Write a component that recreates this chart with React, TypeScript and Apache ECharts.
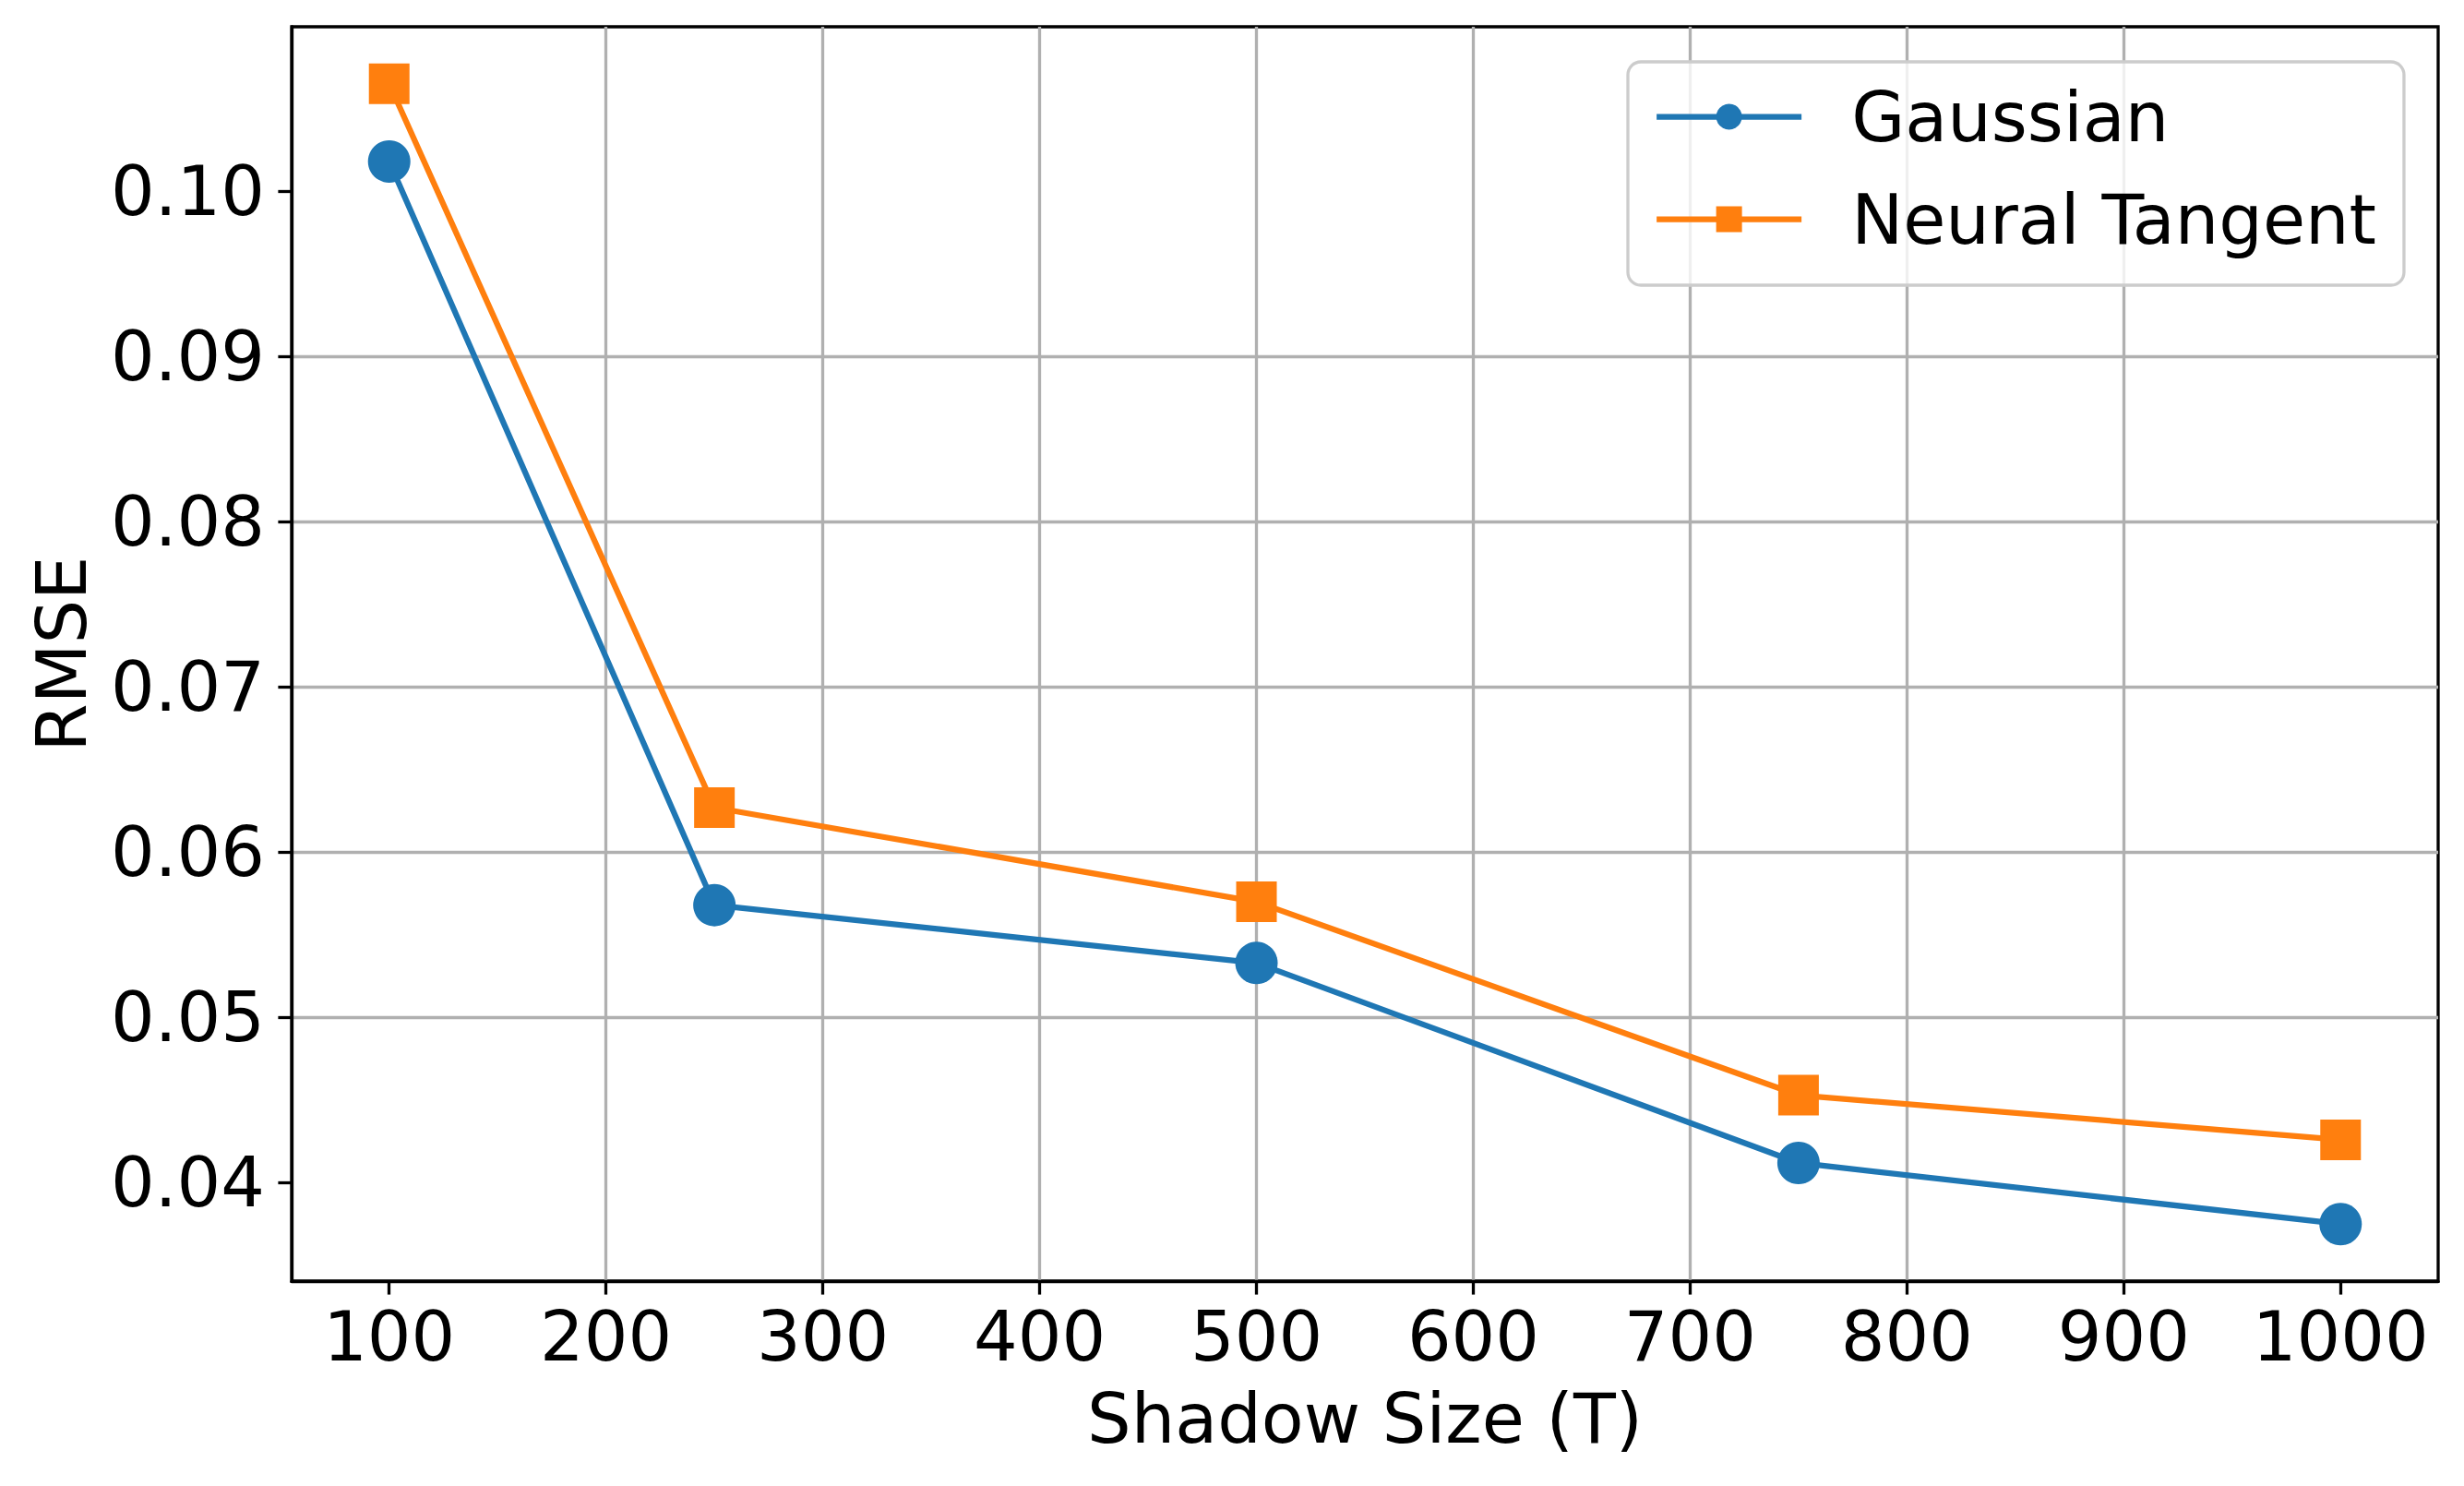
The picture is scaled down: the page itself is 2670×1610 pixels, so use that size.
import React, { useEffect, useRef } from "react";
import * as echarts from "echarts";

const xValues = [100, 250, 500, 750, 1000];
const gaussian = [0.1018, 0.0568, 0.0533, 0.0412, 0.0375];
const neuralTangent = [0.1065, 0.0627, 0.057, 0.0453, 0.0426];
const xTicks = [100, 200, 300, 400, 500, 600, 700, 800, 900, 1000];
const yTicks = [0.04, 0.05, 0.06, 0.07, 0.08, 0.09, 0.1];
const seriesNames = ["Gaussian", "Neural Tangent"];

const FONT = "DejaVu Sans";

export default function App() {
  const ref = useRef<HTMLDivElement>(null);
  useEffect(() => {
    if (!ref.current) return;
    const chart = echarts.init(ref.current, undefined, { renderer: "svg" });
    const xMinD = Math.min(...xValues);
    const xMaxD = Math.max(...xValues);
    const xr = xMaxD - xMinD;
    const allY = [...gaussian, ...neuralTangent];
    const yMinD = Math.min(...allY);
    const yMaxD = Math.max(...allY);
    const yr = yMaxD - yMinD;
    const isTick = (v: number, arr: number[]) => arr.some((t) => Math.abs(t - v) < 1e-9);

    chart.setOption({
      animation: false,
      backgroundColor: "#ffffff",
      grid: {
        left: 316,
        right: 28,
        top: 29,
        bottom: 222,
        show: true,
        borderColor: "#000",
        borderWidth: 3.3,
        backgroundColor: "transparent",
      },
      legend: {
        orient: "vertical",
        left: 1764,
        top: 67,
        padding: [22, 30, 34, 28],
        itemWidth: 157,
        itemHeight: 35,
        itemGap: 36,
        backgroundColor: "rgba(255,255,255,0.8)",
        borderColor: "#cccccc",
        borderWidth: 3.3,
        borderRadius: 14,
        lineStyle: { width: 6.25 },
        textStyle: {
          fontFamily: FONT,
          fontSize: 75,
          color: "#000",
          padding: [0, 0, 0, 49],
        },
        data: seriesNames,
      },
      xAxis: {
        type: "value",
        min: xMinD - 0.05 * xr,
        max: xMaxD + 0.05 * xr,
        splitNumber: 10,
        name: "Shadow Size (T)",
        nameLocation: "middle",
        nameGap: 111,
        nameTextStyle: { fontFamily: FONT, fontSize: 75, color: "#000" },
        axisLine: { show: true, lineStyle: { color: "#000", width: 3.3 } },
        axisTick: {
          show: true,
          customValues: xTicks,
          length: 14.6,
          lineStyle: { color: "#000", width: 3.3 },
        },
        axisLabel: {
          customValues: xTicks,
          margin: 22,
          fontFamily: FONT,
          fontSize: 75,
          color: "#000",
          formatter: (v: number) => (isTick(v, xTicks) ? String(v) : ""),
        },
        splitLine: {
          show: true,
          showMinLine: false,
          showMaxLine: false,
          lineStyle: { color: "#b0b0b0", width: 3.3 },
        },
      },
      yAxis: {
        type: "value",
        min: yMinD - 0.05 * yr,
        max: yMaxD + 0.05 * yr,
        splitNumber: 8,
        name: "RMSE",
        nameLocation: "middle",
        nameGap: 212,
        nameTextStyle: { fontFamily: FONT, fontSize: 75, color: "#000" },
        axisLine: { show: true, lineStyle: { color: "#000", width: 3.3 } },
        axisTick: {
          show: true,
          customValues: yTicks,
          length: 14.6,
          lineStyle: { color: "#000", width: 3.3 },
        },
        axisLabel: {
          customValues: yTicks,
          margin: 29,
          fontFamily: FONT,
          fontSize: 75,
          color: "#000",
          formatter: (v: number) => (isTick(v, yTicks) ? v.toFixed(2) : ""),
        },
        splitLine: {
          show: true,
          showMinLine: false,
          showMaxLine: false,
          lineStyle: { color: "#b0b0b0", width: 3.3 },
        },
      },
      series: [
        {
          name: seriesNames[0],
          type: "line",
          data: xValues.map((x, i) => [x, gaussian[i]]),
          symbol: "circle",
          symbolSize: 46,
          lineStyle: { color: "#1f77b4", width: 6.25 },
          itemStyle: { color: "#1f77b4" },
          z: 3,
        },
        {
          name: seriesNames[1],
          type: "line",
          data: xValues.map((x, i) => [x, neuralTangent[i]]),
          symbol: "rect",
          symbolSize: 44,
          lineStyle: { color: "#ff7f0e", width: 6.25 },
          itemStyle: { color: "#ff7f0e" },
          z: 4,
        },
      ],
    });
    return () => chart.dispose();
  }, []);
  return (
    <div
      ref={ref}
      style={{ position: "absolute", left: 0, top: 0, width: 2670, height: 1610 }}
    />
  );
}
